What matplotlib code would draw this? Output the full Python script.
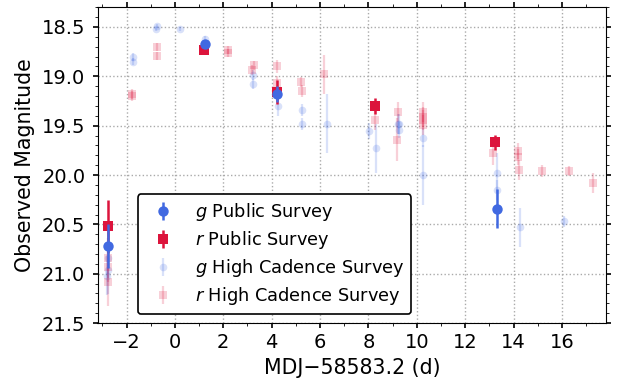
import matplotlib
matplotlib.use("Agg")
import matplotlib.pyplot as plt
from matplotlib.ticker import MultipleLocator

# Public survey g
pg_t = [-2.76, 1.25, 4.23, 13.3]
pg_m = [20.72, 18.67, 19.18, 20.34]
pg_e = [0.22, 0.04, 0.08, 0.20]

# Public survey r
pr_t = [-2.76, 1.21, 4.22, 8.26, 13.23]
pr_m = [20.52, 18.73, 19.16, 19.30, 19.67]
pr_e = [0.27, 0.04, 0.12, 0.08, 0.08]

# High cadence g
hg_t = [-2.78, -2.78, -2.80, -1.72, -1.72, -0.80, -0.72, 0.21, 1.25, 3.24, 3.24,
        4.26, 5.27, 5.27, 6.27, 8.04, 8.30, 9.22, 9.28, 9.28, 10.27, 10.27,
        13.31, 13.31, 14.27, 16.09]
hg_m = [20.84, 20.96, 21.02, 18.80, 18.85, 18.52, 18.49, 18.52, 18.62, 18.99, 19.08,
        19.30, 19.34, 19.48, 19.48, 19.55, 19.73, 19.48, 19.48, 19.54, 19.62, 20.00,
        19.98, 20.15, 20.53, 20.47]
hg_e = [0.20, 0.25, 0.20, 0.04, 0.04, 0.02, 0.02, 0.02, 0.03, 0.05, 0.05,
        0.10, 0.06, 0.06, 0.30, 0.08, 0.25, 0.10, 0.10, 0.08, 0.10, 0.30,
        0.20, 0.10, 0.20, 0.06]

# High cadence r
hr_t = [-2.77, -2.77, -2.77, -1.77, -1.77, -0.76, -0.74, 2.20, 2.20, 3.17, 3.28,
        4.20, 4.22, 5.21, 5.27, 6.17, 8.27, 9.21, 9.17, 10.25, 10.25, 10.25, 10.25,
        13.13, 14.18, 14.18, 14.23, 15.17, 16.30, 17.28]
hr_m = [20.84, 20.93, 21.08, 19.18, 19.20, 18.70, 18.79, 18.73, 18.76, 18.94, 18.89,
        18.90, 19.07, 19.06, 19.15, 18.98, 19.44, 19.36, 19.64, 19.36, 19.41, 19.44, 19.49,
        19.78, 19.76, 19.82, 19.95, 19.96, 19.96, 20.08]
hr_e = [0.20, 0.15, 0.25, 0.05, 0.05, 0.04, 0.04, 0.04, 0.04, 0.05, 0.05,
        0.07, 0.07, 0.05, 0.06, 0.20, 0.10, 0.10, 0.22, 0.10, 0.10, 0.10, 0.10,
        0.12, 0.08, 0.08, 0.10, 0.06, 0.05, 0.10]

G = "#4169E1"
R = "#DC143C"

fig = plt.figure(figsize=(6.25, 3.81), dpi=100)
ax = fig.add_axes([0.156, 0.152, 0.814, 0.829])

ax.errorbar(hg_t, hg_m, yerr=hg_e, fmt="o", color=G, ms=5.5, elinewidth=1.6,
            alpha=0.2, mew=0, label="$g$ High Cadence Survey", zorder=2)
ax.errorbar(hr_t, hr_m, yerr=hr_e, fmt="s", color=R, ms=5.5, elinewidth=1.6,
            alpha=0.2, mew=0, label="$r$ High Cadence Survey", zorder=2)
ax.errorbar(pr_t, pr_m, yerr=pr_e, fmt="s", color=R, ms=7.5, elinewidth=1.8,
            mew=0, label="$r$ Public Survey", zorder=3)
ax.errorbar(pg_t, pg_m, yerr=pg_e, fmt="o", color=G, ms=7.5, elinewidth=1.8,
            mew=0, label="$g$ Public Survey", zorder=4)

ax.set_xlim(-3.2, 17.83)
ax.set_ylim(21.5, 18.3)
ax.xaxis.set_major_locator(MultipleLocator(2))
ax.xaxis.set_minor_locator(MultipleLocator(1))
ax.yaxis.set_major_locator(MultipleLocator(0.5))
ax.yaxis.set_minor_locator(MultipleLocator(0.1))
ax.tick_params(which="both", direction="out", top=True, right=True, labelsize=14)
ax.tick_params(which="major", length=3.8, width=1.2)
ax.tick_params(which="minor", length=2.2)
ax.tick_params(axis="y", which="major", pad=5)
ax.grid(True, which="major", linestyle=":", color="#aaaaaa", linewidth=1)
ax.set_axisbelow(True)

ax.set_xlabel("MDJ\u221258583.2 (d)", fontsize=14.8, labelpad=4)
ax.set_ylabel("Observed Magnitude", fontsize=14.8, labelpad=5)

h, l = ax.get_legend_handles_labels()
order = [3, 2, 0, 1]
leg = ax.legend([h[i] for i in order], [l[i] for i in order],
                loc="lower left", bbox_to_anchor=(0.079, 0.0285), borderaxespad=0,
                fontsize=12.8, labelspacing=0.33, framealpha=1, edgecolor="black",
                fancybox=True)
leg.get_frame().set_linewidth(1.2)

fig.savefig("out.png", dpi=100)
